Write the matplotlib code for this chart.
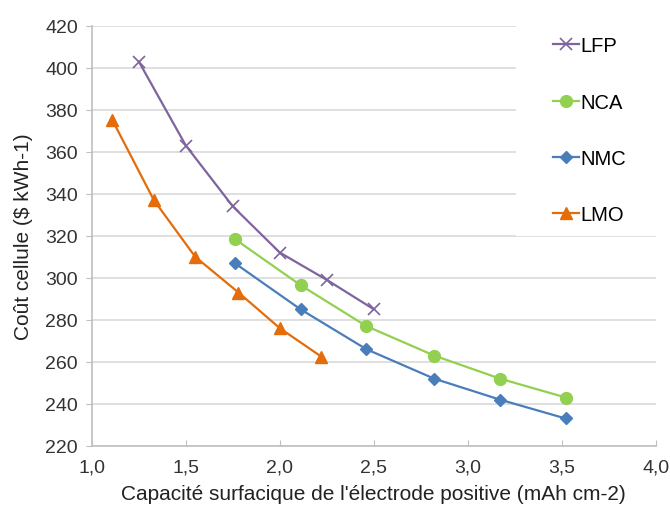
import matplotlib
matplotlib.use("Agg")
import matplotlib.pyplot as plt
from matplotlib.ticker import FuncFormatter, MultipleLocator
from matplotlib.patches import Rectangle

plt.rcParams['font.family'] = ['Liberation Sans', 'DejaVu Sans']

# data
lfp_x = [1.25, 1.50, 1.75, 2.00, 2.25, 2.50]
lfp_y = [403, 363, 334, 312, 299, 285]
nca_x = [1.76, 2.11, 2.46, 2.82, 3.17, 3.52]
nca_y = [318.5, 296.5, 277, 263, 252, 243]
nmc_x = [1.76, 2.11, 2.46, 2.82, 3.17, 3.52]
nmc_y = [307, 285, 266, 252, 242, 233]
lmo_x = [1.11, 1.33, 1.55, 1.78, 2.00, 2.22]
lmo_y = [375, 337, 310, 293, 276, 262.5]

fig = plt.figure(figsize=(6.7, 5.06), dpi=100)
ax = fig.add_axes([0.137, 0.117, 0.842, 0.830])

ax.plot(lfp_x, lfp_y, color='#7E649E', lw=1.6, marker='x', ms=9, mew=1.2, label='LFP', zorder=3)
ax.plot(nca_x, nca_y, color='#92D050', lw=1.6, marker='o', ms=8.5, label='NCA', zorder=3)
ax.plot(nmc_x, nmc_y, color='#4A7EBB', lw=1.6, marker='D', ms=6.5, label='NMC', zorder=3)
ax.plot(lmo_x, lmo_y, color='#E46C0A', lw=1.6, marker='^', ms=9, label='LMO', zorder=3)

ax.set_xlim(1.0, 4.0)
ax.set_ylim(220, 420)
ax.xaxis.set_major_locator(MultipleLocator(0.5))
ax.yaxis.set_major_locator(MultipleLocator(20))
ax.xaxis.set_major_formatter(FuncFormatter(lambda v, p: f"{v:.1f}".replace('.', ',')))

ax.grid(axis='y', color='#D9D9D9', lw=1.2, zorder=0)
ax.set_axisbelow(True)
for s in ['top', 'right']:
    ax.spines[s].set_visible(False)
for s in ['left', 'bottom']:
    ax.spines[s].set_color('#BFBFBF')
    ax.spines[s].set_linewidth(1.2)
ax.tick_params(axis='y', direction='out', length=4, color='#BFBFBF', labelsize=14, pad=6)
ax.tick_params(axis='x', direction='in', length=4, color='#BFBFBF', labelsize=14, pad=9)
for lab in ax.get_xticklabels() + ax.get_yticklabels():
    lab.set_color('#333333')

ax.set_xlabel("Capacité surfacique de l'électrode positive (mAh cm-2)", fontsize=15, color='#222222', labelpad=6)
ax.set_ylabel("Coût cellule ($ kWh-1)", fontsize=15, color='#222222', labelpad=9)

# white legend area covering the gridlines
ax.add_patch(Rectangle((0.752, 0.50), 0.3, 0.52, transform=ax.transAxes,
                       facecolor='white', edgecolor='none', zorder=1, clip_on=False))
leg = ax.legend(loc='upper left', bbox_to_anchor=(0.818, 0.975), frameon=False,
                fontsize=14.5, labelspacing=1.85, handlelength=1.3, handletextpad=0.05,
                borderaxespad=0, borderpad=0)
leg.set_zorder(4)

fig.savefig('out.png', dpi=100)
